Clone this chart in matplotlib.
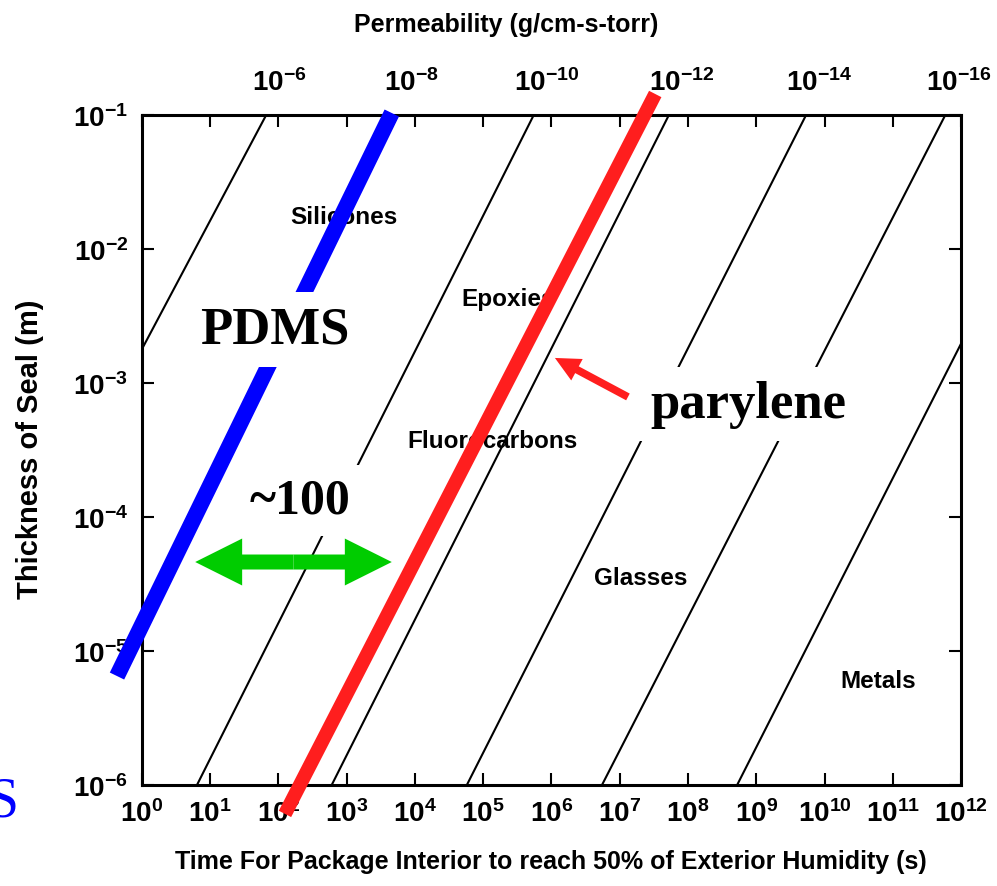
import numpy as np
import matplotlib
matplotlib.use('Agg')
import matplotlib.pyplot as plt
import matplotlib.patches as mpatches
import matplotlib.transforms as mtransforms

# permeability lines: log10 time where each line meets L=1e-6 and L=1e-1
perm_exp = [-6, -8, -10, -12, -14, -16, -18]
t_at_bottom = [-3.39, -1.20, 0.806, 2.78, 4.76, 6.74, 8.72]
t_at_top = [1.82, 3.75, 5.74, 7.72, 9.73, 11.77, 13.70]
thick_range = [-6, -1]

# PDMS and parylene bands (log10 time, log10 thickness)
pdms_t = [-0.366, 3.66]
pdms_L = [-5.187, -0.985]
pary_t = [2.095, 7.52]
pary_L = [-6.216, -0.843]

# material region labels (log10 time, log10 thickness)
materials = ['Silicones', 'Epoxies', 'Fluorocarbons', 'Glasses', 'Metals']
mat_t = [2.96, 5.36, 5.14, 7.30, 10.78]
mat_L = [-1.76, -2.37, -3.43, -4.45, -5.22]

# double arrow (~100) and parylene pointer
span_t = [0.78, 3.66]
span_L = -4.336
pointer_tail = (7.12, -3.104)
pointer_tip = (6.05, -2.813)

top_labels = [r'$\mathdefault{10^{%d}}$' % e for e in perm_exp[:6]]

sans = ['Liberation Sans', 'DejaVu Sans']
serif = ['Liberation Serif', 'DejaVu Serif']

fig = plt.figure(figsize=(9.97, 8.87), dpi=100)
ax = fig.add_axes([0.1424, 0.1139, 0.8215, 0.7553])
ax.set_xscale('log')
ax.set_yscale('log')
ax.set_xlim(1e0, 1e12)
ax.set_ylim(1e-6, 1e-1)

for tb, tt in zip(t_at_bottom, t_at_top):
    ax.plot([10**tb, 10**tt], [10**thick_range[0], 10**thick_range[1]],
            color='black', lw=1.5, zorder=1)

for name, t, L in zip(materials, mat_t, mat_L):
    ax.text(10**t, 10**L, name, ha='center', va='center', fontsize=17.5,
            family=sans, weight='bold', zorder=2)

ax.plot(10**np.array(pdms_t), 10**np.array(pdms_L), color='#0000ff', lw=11.5,
        solid_capstyle='butt', clip_on=False, zorder=3)
ax.plot(10**np.array(pary_t), 10**np.array(pary_L), color='#ff1e1e', lw=10,
        solid_capstyle='butt', clip_on=False, zorder=3)

box = dict(facecolor='white', edgecolor='none', boxstyle='square,pad=0.25')
ax.text(10**1.95, 10**-2.60, 'PDMS', ha='center', va='center', fontsize=38,
        family=serif, weight='bold', bbox=box, zorder=4)
ax.text(10**2.31, 10**-3.88, '~100', ha='center', va='center', fontsize=36,
        family=serif, weight='bold', bbox=box, zorder=4)
ax.text(10**8.88, 10**-3.157, 'parylene', ha='center', va='center', fontsize=38,
        family=serif, weight='bold', bbox=box, zorder=4)

# green double arrow drawn as two halves from the middle
mid = 10**(0.5 * (span_t[0] + span_t[1]))
for end in span_t:
    ax.add_patch(mpatches.FancyArrowPatch(
        (mid, 10**span_L), (10**end, 10**span_L),
        arrowstyle='simple,head_length=3.38,head_width=3.38,tail_width=1.08',
        mutation_scale=10, color='#00cc00', lw=0, zorder=5,
        shrinkA=0, shrinkB=0))

ax.add_patch(mpatches.FancyArrowPatch(
    (10**pointer_tail[0], 10**pointer_tail[1]), (10**pointer_tip[0], 10**pointer_tip[1]),
    arrowstyle='simple,head_length=1.8,head_width=1.75,tail_width=0.55',
    mutation_scale=10, color='#ff1e1e', lw=0, zorder=5, shrinkA=0, shrinkB=0))

# axes styling
ax.set_xticks([10.0**k for k in range(13)])
ax.set_yticks([10.0**k for k in range(-6, 0)])
ax.minorticks_off()
ax.tick_params(which='major', direction='in', length=8.5, width=1.5,
               top=True, right=True, pad=10)
for lab in ax.get_xticklabels() + ax.get_yticklabels():
    lab.set_family(sans)
    lab.set_weight('bold')
    lab.set_fontsize(20)
for sp in ax.spines.values():
    sp.set_linewidth(2.2)

sec = ax.secondary_xaxis('top')
sec.set_xticks([10**t for t in t_at_top[:6]])
sec.set_xticklabels(top_labels)
sec.tick_params(length=0, pad=14)
sec.spines['top'].set_visible(False)
shift = mtransforms.ScaledTranslation(0.13, 0, fig.dpi_scale_trans)
for lab in sec.get_xticklabels():
    lab.set_family(sans)
    lab.set_weight('bold')
    lab.set_fontsize(20)
    lab.set_transform(lab.get_transform() + shift)

fig.text(0.508, 0.972, 'Permeability (g/cm-s-torr)', ha='center', va='center',
         fontsize=18, family=sans, weight='bold')
fig.text(0.553, 0.028, 'Time For Package Interior to reach 50% of Exterior Humidity (s)',
         ha='center', va='center', fontsize=18, family=sans, weight='bold')
fig.text(0.030, 0.493, 'Thickness of Seal (m)', ha='center', va='center',
         rotation=90, fontsize=21, family=sans, weight='bold')
fig.text(0.003, 0.080, 'S', ha='center', va='baseline', fontsize=40,
         family=serif, color='#0000ff')

fig.savefig('out.png', dpi=100)
